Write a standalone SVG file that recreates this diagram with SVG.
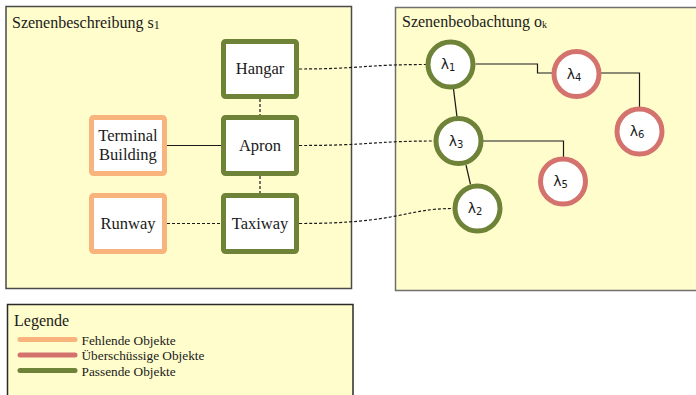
<svg xmlns="http://www.w3.org/2000/svg" width="696" height="395" viewBox="0 0 696 395">
  <style>
    .panel { fill: #FFFDCC; stroke: #4a4a4a; stroke-width: 1.5; }
    .txt { font-family: "Liberation Serif", "DejaVu Serif", serif; fill: #1a1a1a; }
    .title { font-size: 16px; }
    .label { font-size: 16.5px; text-anchor: middle; }
    .sym { font-family: "DejaVu Sans", "Liberation Sans", sans-serif; font-size: 14px; text-anchor: middle; fill: #1a1a1a; }
    .leg { font-size: 13.3px; }
    .box { fill: #ffffff; stroke-width: 5; }
    .circ { fill: #ffffff; stroke-width: 5; }
    .match { stroke: #6E8238; }
    .missing { stroke: #F9B47D; }
    .extra { stroke: #D4736E; }
    .solid { fill: none; stroke: #1a1a1a; stroke-width: 1.2; }
    .dash { fill: none; stroke: #1a1a1a; stroke-width: 1.2; stroke-dasharray: 3 2; }
    .legline { stroke-width: 5; stroke-linecap: round; }
  </style>

  <!-- panels -->
  <rect class="panel" x="6" y="6.5" width="345.5" height="282"/>
  <rect class="panel" x="395.5" y="7.5" width="302" height="283" style="stroke:#6f6f6f"/>
  <rect class="panel" x="7.5" y="304.5" width="345.5" height="95" style="stroke:#2a2a2a"/>

  <text class="txt title" x="12" y="28">Szenenbeschreibung s<tspan font-size="12" dy="1">1</tspan></text>
  <text class="txt title" x="402" y="27">Szenenbeobachtung o<tspan font-size="10" dy="1">k</tspan></text>

  <!-- connectors -->
  <g id="connectors">
    <path class="dash" d="M260,99 V115"/>
    <path class="dash" d="M260,176 V193"/>
    <path class="solid" d="M167,145.5 H221"/>
    <path class="dash" d="M167,223.5 H221"/>
    <path class="dash" d="M299,69 C360,69 365,64.5 426,64.5"/>
    <path class="dash" d="M299,145.5 C370,145.5 375,141 434,141"/>
    <path class="dash" d="M299,223.5 C400,223.5 405,208.5 453,208.5"/>
    <path class="solid" d="M475.5,64 H537.5 V73 H552"/>
    <path class="solid" d="M601,73 H639.5 V107"/>
    <path class="solid" d="M453.5,89 L457,117"/>
    <path class="solid" d="M483,141 H563.5 V157"/>
    <path class="solid" d="M466,165 L470.5,184.5"/>
  </g>

  <!-- scene description nodes -->
  <g id="hangar">
    <rect class="box match" x="223.5" y="41.5" width="73" height="55" rx="2"/>
    <text class="txt label" x="260" y="74">Hangar</text>
  </g>
  <g id="apron">
    <rect class="box match" x="223.5" y="117.5" width="73" height="56" rx="2"/>
    <text class="txt label" x="260" y="150.5">Apron</text>
  </g>
  <g id="taxiway">
    <rect class="box match" x="223.5" y="195.5" width="73" height="56" rx="2"/>
    <text class="txt label" x="260" y="228.5">Taxiway</text>
  </g>
  <g id="terminal">
    <rect class="box missing" x="91.5" y="117.5" width="73" height="56" rx="2"/>
    <text class="txt label" x="128" y="140.5">Terminal</text>
    <text class="txt label" x="128" y="160">Building</text>
  </g>
  <g id="runway">
    <rect class="box missing" x="91.5" y="195.5" width="73" height="56" rx="2"/>
    <text class="txt label" x="128" y="228.5">Runway</text>
  </g>

  <!-- scene observation nodes -->
  <g id="l1">
    <circle class="circ match" cx="450.5" cy="64.5" r="22.5"/>
    <text class="sym" x="448" y="69">λ<tspan font-size="10" dy="2">1</tspan></text>
  </g>
  <g id="l3">
    <circle class="circ match" cx="458.5" cy="141" r="22.5"/>
    <text class="sym" x="456" y="145.5">λ<tspan font-size="10" dy="2">3</tspan></text>
  </g>
  <g id="l2">
    <circle class="circ match" cx="477.5" cy="208.5" r="22.5"/>
    <text class="sym" x="475" y="213">λ<tspan font-size="10" dy="2">2</tspan></text>
  </g>
  <g id="l4">
    <circle class="circ extra" cx="576.5" cy="74" r="22.5"/>
    <text class="sym" x="574" y="78.5">λ<tspan font-size="10" dy="2">4</tspan></text>
  </g>
  <g id="l5">
    <circle class="circ extra" cx="563" cy="181.5" r="22.5"/>
    <text class="sym" x="560.5" y="186">λ<tspan font-size="10" dy="2">5</tspan></text>
  </g>
  <g id="l6">
    <circle class="circ extra" cx="639.5" cy="131.5" r="22.5"/>
    <text class="sym" x="637" y="136">λ<tspan font-size="10" dy="2">6</tspan></text>
  </g>

  <!-- legend -->
  <g id="legend">
    <text class="txt title" x="14" y="325.5">Legende</text>
    <line class="legline missing" x1="20" y1="339.5" x2="75" y2="339.5"/>
    <line class="legline extra" x1="20" y1="355" x2="75" y2="355"/>
    <line class="legline match" x1="20" y1="370.5" x2="75" y2="370.5"/>
    <text class="txt leg" x="81.5" y="344.5">Fehlende Objekte</text>
    <text class="txt leg" x="81.5" y="360">Überschüssige Objekte</text>
    <text class="txt leg" x="81.5" y="375.5">Passende Objekte</text>
  </g>
</svg>
